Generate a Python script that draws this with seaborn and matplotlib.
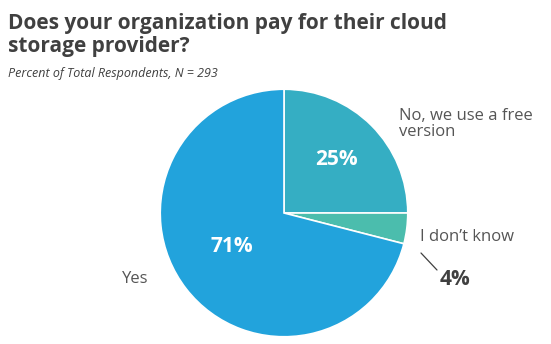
import matplotlib
matplotlib.use("Agg")
import matplotlib.pyplot as plt
import seaborn as sns

categories = ["No, we use a free\nversion", "I don\u2019t know", "Yes"]
values = [25, 4, 71]
pct_labels = ["25%", "4%", "71%"]
colors = ["#35AEC3", "#4BBDAD", "#22A3DC"]

sns.set_theme(style="white")
plt.rcParams['font.family'] = ['Open Sans', 'DejaVu Sans']

W, H = 551, 344
fig = plt.figure(figsize=(W / 100, H / 100), dpi=100)

cx, cy, r = 284, 213, 125
ax = fig.add_axes([(cx - r) / W, (H - cy - r) / H, 2 * r / W, 2 * r / H])
wedges, _ = ax.pie(values, colors=colors, startangle=90, counterclock=False,
                   radius=1, wedgeprops=dict(edgecolor="white", linewidth=1.2))
ax.set_xlim(-1.01, 1.01)
ax.set_ylim(-1.01, 1.01)
ax.set_aspect("equal")
ax.axis("off")

def px(x, y):
    return x / W, 1 - y / H

dark = "#404040"
label_c = "#555555"

fig.text(*px(8, 29), "Does your organization pay for their cloud",
         fontsize=15, fontweight="bold", color=dark, va="baseline", ha="left")
fig.text(*px(8, 52), "storage provider?",
         fontsize=15, fontweight="bold", color=dark, va="baseline", ha="left")
fig.text(*px(8, 77), "Percent of Total Respondents, N = 293", fontsize=9,
         style="italic", color=dark, va="baseline", ha="left")

# inside labels
fig.text(*px(336, 160), pct_labels[0], fontsize=15, fontweight="bold",
         color="white", ha="center", va="center")
fig.text(*px(232, 246), pct_labels[2], fontsize=15, fontweight="bold",
         color="white", ha="center", va="center")

# outside labels
fig.text(*px(399, 120), "No, we use a free", fontsize=12, color=label_c,
         ha="left", va="baseline")
fig.text(*px(399, 136), "version", fontsize=12, color=label_c,
         ha="left", va="baseline")
fig.text(*px(420, 241), categories[1], fontsize=12, color=label_c,
         ha="left", va="baseline")
fig.text(*px(122, 283), categories[2], fontsize=12, color=label_c,
         ha="left", va="baseline")
fig.text(*px(440, 285), pct_labels[1], fontsize=15, fontweight="bold",
         color=dark, ha="left", va="baseline")
fig.add_artist(plt.Line2D([421 / W, 437 / W], [1 - 253 / H, 1 - 270 / H],
                          color=dark, linewidth=0.9))

fig.savefig("out.png", dpi=100)
